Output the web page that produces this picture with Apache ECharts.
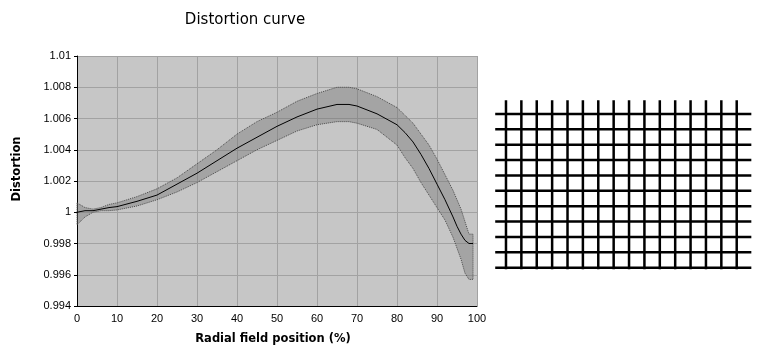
<!DOCTYPE html>
<html>
<head>
<meta charset="utf-8">
<script src="https://cdn.jsdelivr.net/npm/echarts@6/dist/echarts.min.js"></script>
<style>
html,body{margin:0;padding:0;background:#fff;}
#chart{width:778px;height:359px;}
</style>
</head>
<body>
<div id="chart"></div>
<script>
// ---- data ----
var titleText = 'Distortion curve';
var xAxisTitle = 'Radial field position (%)';
var yAxisTitle = 'Distortion';

var positions = [0,2,4,6,8,10,15,20,25,30,35,40,45,50,55,60,65,68,70,75,80,82,84,86,88,90,92,94,95,96,97,98,99];
var distortion = [1.0000,1.0001,1.0001,1.0002,1.0003,1.00036,1.0007,1.0011,1.0018,1.0025,1.0033,1.0041,1.0048,1.0055,1.0061,1.0066,1.0069,1.0069,1.0068,1.0063,1.0056,1.0051,1.0045,1.0037,1.0028,1.0018,1.0008,0.9997,0.9991,0.9986,0.9982,0.9980,0.9980];
var upperBound = [1.0006,1.0003,1.0002,1.0003,1.0005,1.0006,1.0010,1.0015,1.0022,1.0031,1.0040,1.0050,1.0058,1.0064,1.0071,1.0076,1.0080,1.0080,1.0079,1.0074,1.0067,1.0062,1.0057,1.0050,1.0043,1.0034,1.0024,1.0014,1.0008,1.0002,0.9994,0.9986,0.9986];
var lowerBound = [0.9992,0.9997,1.0000,1.0001,1.0001,1.00015,1.0004,1.0008,1.0013,1.0019,1.0026,1.0033,1.0040,1.0046,1.0052,1.0056,1.0058,1.0058,1.0057,1.0053,1.0043,1.0035,1.0028,1.0019,1.0011,1.0003,0.9995,0.9984,0.9977,0.9970,0.9961,0.9957,0.9957];

var xTicks = {min: 0, max: 100, interval: 10};
var yTicks = {min: 0.994, max: 1.01, interval: 0.002};

// distorted-grid picture: column / row indices and line extents
var gridColumns = [0,1,2,3,4,5,6,7,8,9,10,11,12,13,14,15];
var gridRows = [0,1,2,3,4,5,6,7,8,9,10];
var columnExtent = [-0.9, 10.1];
var rowExtent = [-0.7, 15.95];

// ---- build ----
var centerData = positions.map(function (x, i) { return [x, distortion[i]]; });

var series = [
  {
    type: 'custom',
    xAxisIndex: 0, yAxisIndex: 0,
    silent: true,
    z: 2,
    data: [[0, 1]],
    renderItem: function (params, api) {
      var pts = [];
      for (var i = 0; i < positions.length; i++) pts.push(api.coord([positions[i], upperBound[i]]));
      for (var j = positions.length - 1; j >= 0; j--) pts.push(api.coord([positions[j], lowerBound[j]]));
      return {
        type: 'polygon',
        shape: { points: pts },
        style: { fill: 'rgba(110,110,110,0.38)', stroke: '#4a4a4a', lineWidth: 1, lineDash: [1, 1] }
      };
    }
  },
  {
    type: 'line',
    xAxisIndex: 0, yAxisIndex: 0,
    data: centerData,
    symbol: 'none',
    silent: true,
    z: 3,
    lineStyle: { color: '#000', width: 1 }
  }
];

gridColumns.forEach(function (c) {
  series.push({
    type: 'line', xAxisIndex: 1, yAxisIndex: 1, symbol: 'none', silent: true,
    data: [[c, columnExtent[0]], [c, columnExtent[1]]],
    lineStyle: { color: '#000', width: 2.5, cap: 'butt' }
  });
});
gridRows.forEach(function (r) {
  series.push({
    type: 'line', xAxisIndex: 1, yAxisIndex: 1, symbol: 'none', silent: true,
    data: [[rowExtent[0], r], [rowExtent[1], r]],
    lineStyle: { color: '#000', width: 2.5, cap: 'butt' }
  });
});

var chart = echarts.init(document.getElementById('chart'), null, { renderer: 'canvas' });
chart.setOption({
  animation: false,
  backgroundColor: '#ffffff',
  textStyle: { fontFamily: '"Liberation Sans", Arial, sans-serif' },
  graphic: [
    { type: 'text', left: 'center', x: 0, style: { text: '' } },
    { type: 'text', x: 245, y: 20, style: { text: titleText, font: '15px "DejaVu Sans"', fill: '#000', align: 'center', verticalAlign: 'middle' } },
    { type: 'text', x: 273, y: 339, style: { text: xAxisTitle, font: 'bold 11.5px "DejaVu Sans"', fill: '#000', align: 'center', verticalAlign: 'middle' } },
    { type: 'text', x: 17, y: 169, rotation: Math.PI / 2, style: { text: yAxisTitle, font: 'bold 11.5px "DejaVu Sans"', fill: '#000', align: 'center', verticalAlign: 'middle' } }
  ],
  grid: [
    { left: 77, top: 56, width: 400, height: 250, show: true, backgroundColor: '#c6c6c6', borderWidth: 0, containLabel: false, outerBoundsMode: 'none' },
    { left: 490.6, top: 98.6, width: 261.5, height: 184.4, show: false, containLabel: false, outerBoundsMode: 'none' }
  ],
  xAxis: [
    {
      type: 'value', gridIndex: 0, min: xTicks.min, max: xTicks.max, interval: xTicks.interval,
      axisLine: { show: true, onZero: false, lineStyle: { color: '#000', width: 1 } },
      axisTick: { show: false },
      axisLabel: { color: '#000', fontSize: 11, margin: 7, fontFamily: '"Liberation Sans", Arial, sans-serif' },
      splitLine: { show: true, showMinLine: true, showMaxLine: true, lineStyle: { color: '#a2a2a2', width: 1 } }
    },
    { type: 'value', gridIndex: 1, min: -1, max: 16, show: false, splitLine: { show: false } }
  ],
  yAxis: [
    {
      type: 'value', gridIndex: 0, min: yTicks.min, max: yTicks.max, interval: yTicks.interval,
      axisLine: { show: true, onZero: false, lineStyle: { color: '#000', width: 1 } },
      axisTick: { show: true, inside: false, length: 3, lineStyle: { color: '#000' } },
      axisLabel: {
        color: '#000', fontSize: 11, margin: 6, fontFamily: '"Liberation Sans", Arial, sans-serif',
        formatter: function (v) { return String(+v.toFixed(3)); }
      },
      splitLine: { show: true, showMinLine: true, showMaxLine: true, lineStyle: { color: '#a2a2a2', width: 1 } }
    },
    { type: 'value', gridIndex: 1, min: -1, max: 11, inverse: true, show: false, splitLine: { show: false } }
  ],
  series: series
});
</script>
</body>
</html>
